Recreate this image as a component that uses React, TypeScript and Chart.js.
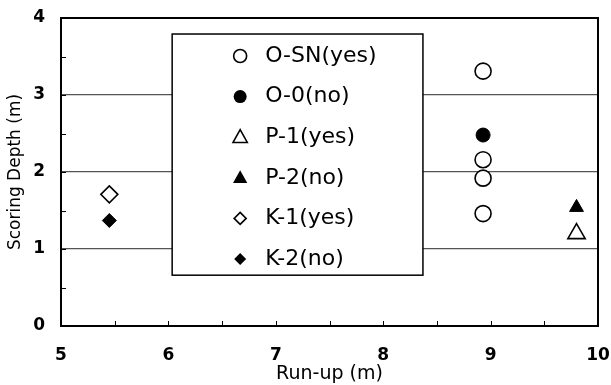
import React, { useEffect, useRef } from 'react';
import { Chart, registerables } from 'chart.js';

Chart.register(...registerables);

// ---- data ----
const osnX = [8.93, 8.93, 8.93, 8.93];
const osnY = [3.31, 2.16, 1.92, 1.46];
const o0X = [8.93];
const o0Y = [2.48];
const p1X = [9.8];
const p1Y = [1.2];
const p2X = [9.8];
const p2Y = [1.54];
const k1X = [5.45];
const k1Y = [1.71];
const k2X = [5.45];
const k2Y = [1.37];

const seriesLabels = ['O-SN(yes)', 'O-0(no)', 'P-1(yes)', 'P-2(no)', 'K-1(yes)', 'K-2(no)'];
const xMinorTicks = [5.5, 6, 6.5, 7, 7.5, 8, 8.5, 9, 9.5];
const yMinorTicks = [0.5, 1, 1.5, 2, 2.5, 3, 3.5];
const yGridValues = [1, 2, 3];

const FONT = '"DejaVu Sans", Arial, sans-serif';

const pts = (xs: number[], ys: number[]) => xs.map((x, i) => ({ x, y: ys[i] }));

function drawMarker(ctx: CanvasRenderingContext2D, shape: string, filled: boolean, x: number, y: number, r: number) {
  ctx.beginPath();
  if (shape === 'circle') {
    ctx.arc(x, y, r, 0, Math.PI * 2);
  } else if (shape === 'triangle') {
    ctx.moveTo(x, y - r);
    ctx.lineTo(x + r * 0.95, y + r * 0.7);
    ctx.lineTo(x - r * 0.95, y + r * 0.7);
    ctx.closePath();
  } else {
    ctx.moveTo(x, y - r);
    ctx.lineTo(x + r, y);
    ctx.lineTo(x, y + r);
    ctx.lineTo(x - r, y);
    ctx.closePath();
  }
  if (filled) {
    ctx.fillStyle = '#000';
    ctx.fill();
  } else {
    ctx.fillStyle = '#fff';
    ctx.fill();
    ctx.strokeStyle = '#000';
    ctx.lineWidth = 1.6;
    ctx.stroke();
  }
}

const legendMeta = [
  { shape: 'circle', filled: false },
  { shape: 'circle', filled: true },
  { shape: 'triangle', filled: false },
  { shape: 'triangle', filled: true },
  { shape: 'diamond', filled: false },
  { shape: 'diamond', filled: true },
];

const framePlugin = {
  id: 'frameAndLegend',
  afterDatasetsDraw(chart: any) {
    const { ctx, chartArea: ca, scales } = chart;
    const xs = scales.x;
    const ys = scales.y;
    ctx.save();
    // inward minor ticks
    ctx.strokeStyle = '#000';
    ctx.lineWidth = 1;
    xMinorTicks.forEach((v) => {
      const px = Math.round(xs.getPixelForValue(v)) + 0.5;
      ctx.beginPath();
      ctx.moveTo(px, ca.bottom);
      ctx.lineTo(px, ca.bottom - 5);
      ctx.stroke();
    });
    yMinorTicks.forEach((v) => {
      const py = Math.round(ys.getPixelForValue(v)) + 0.5;
      ctx.beginPath();
      ctx.moveTo(ca.left, py);
      ctx.lineTo(ca.left + 5, py);
      ctx.stroke();
    });
    // frame
    ctx.lineWidth = 2;
    ctx.strokeRect(ca.left, ca.top, ca.right - ca.left, ca.bottom - ca.top);

    // legend box
    const w = ca.right - ca.left;
    const h = ca.bottom - ca.top;
    const L = ca.left + 0.207 * w;
    const R = ca.left + 0.674 * w;
    const T = ca.top + 0.052 * h;
    const B = ca.top + 0.835 * h;
    ctx.fillStyle = '#fff';
    ctx.fillRect(L, T, R - L, B - T);
    ctx.strokeStyle = '#000';
    ctx.lineWidth = 1.5;
    ctx.strokeRect(L, T, R - L, B - T);
    chart.data.datasets.forEach((ds: any, i: number) => {
      const cy = T + 22 + i * 40.6;
      const meta = legendMeta[i];
      const r = meta.shape === 'circle' ? 6.5 : meta.shape === 'triangle' ? 7.5 : 6;
      drawMarker(ctx, meta.shape, meta.filled, L + 68, cy, r);
      ctx.fillStyle = '#000';
      ctx.font = `22px ${FONT}`;
      ctx.textBaseline = 'middle';
      ctx.textAlign = 'left';
      ctx.fillText(ds.label, L + 93, cy);
    });
    ctx.restore();
  },
};

export default function App() {
  const ref = useRef<HTMLCanvasElement | null>(null);
  useEffect(() => {
    if (!ref.current) return;
    const open = { backgroundColor: '#fff', borderColor: '#000', borderWidth: 1.6 };
    const solid = { backgroundColor: '#000', borderColor: '#000', borderWidth: 1 };
    const chart = new Chart(ref.current, {
      type: 'scatter',
      data: {
        datasets: [
          { label: seriesLabels[0], data: pts(osnX, osnY), pointStyle: 'circle', pointRadius: 8, ...open },
          { label: seriesLabels[1], data: pts(o0X, o0Y), pointStyle: 'circle', pointRadius: 7, ...solid },
          { label: seriesLabels[2], data: pts(p1X, p1Y), pointStyle: 'triangle', pointRadius: 10, ...open },
          { label: seriesLabels[3], data: pts(p2X, p2Y), pointStyle: 'triangle', pointRadius: 8, ...solid },
          { label: seriesLabels[4], data: pts(k1X, k1Y), pointStyle: 'rectRot', pointRadius: 8.5, ...open },
          { label: seriesLabels[5], data: pts(k2X, k2Y), pointStyle: 'rectRot', pointRadius: 7, ...solid },
        ] as any,
      },
      options: {
        animation: false,
        responsive: false,
        maintainAspectRatio: false,
        layout: { padding: { top: 18, right: 13, left: 0, bottom: 0 } },
        plugins: {
          legend: { display: false },
          tooltip: { enabled: false },
        },
        scales: {
          x: {
            type: 'linear',
            min: 5,
            max: 10,
            afterFit: (s: any) => { s.height = 59; s.paddingLeft = 0; s.paddingRight = 0; },
            ticks: { stepSize: 1, color: '#000', padding: 19, font: { family: FONT, size: 17, weight: 'bold' } },
            grid: { display: false, drawTicks: false },
            border: { display: false },
            title: { display: true, text: 'Run-up (m)', color: '#000', padding: { top: 1, bottom: 0 }, font: { family: FONT, size: 19 } },
          },
          y: {
            type: 'linear',
            min: 0,
            max: 4,
            afterFit: (s: any) => { s.width = 61; s.paddingTop = 0; s.paddingBottom = 0; },
            ticks: { stepSize: 1, color: '#000', padding: 16, font: { family: FONT, size: 17, weight: 'bold' } },
            grid: {
              drawTicks: false,
              lineWidth: 1.2,
              color: (c: any) => (yGridValues.includes(c.tick?.value) ? '#555' : 'rgba(0,0,0,0)'),
            },
            border: { display: false },
            title: { display: true, text: 'Scoring Depth (m)', color: '#000', padding: { top: 5, bottom: 4 }, font: { family: FONT, size: 17 } },
          },
        },
      } as any,
      plugins: [framePlugin],
    });
    return () => chart.destroy();
  }, []);
  return (
    <div style={{ position: 'absolute', left: 0, top: 0, width: 611, height: 385, background: '#fff' }}>
      <canvas ref={ref} width={611} height={385} style={{ width: 611, height: 385, display: 'block' }} />
    </div>
  );
}
